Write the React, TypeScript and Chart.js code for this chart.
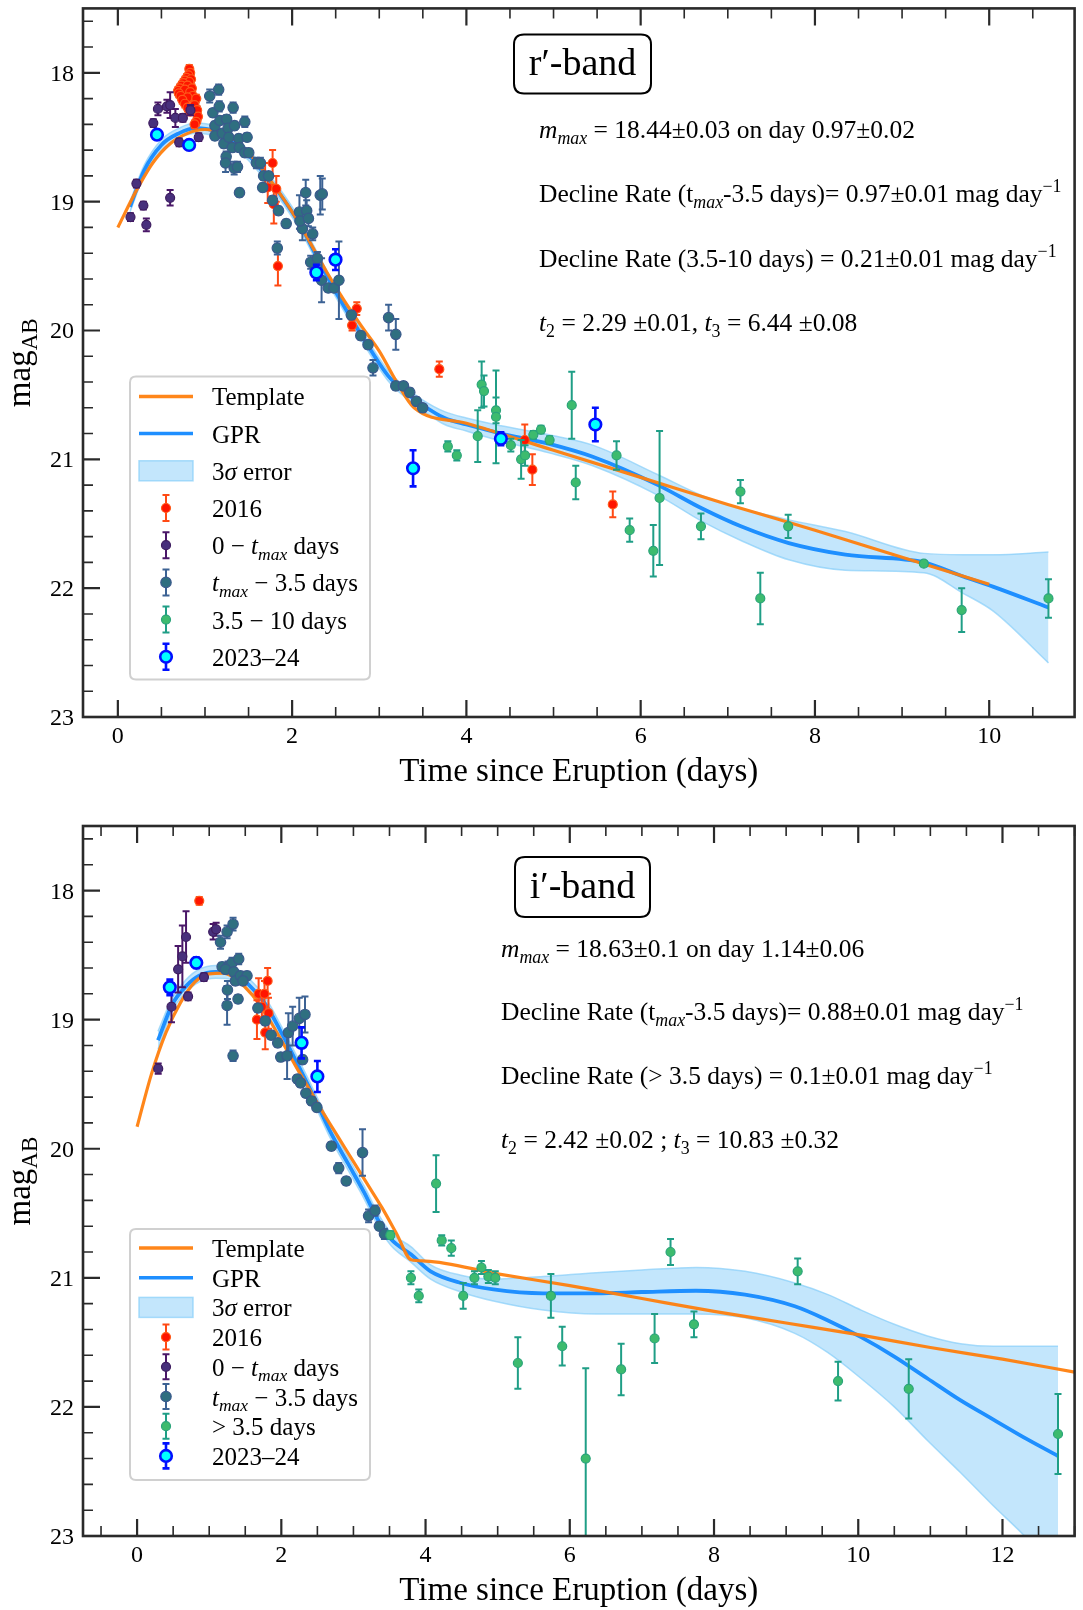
import React, { useEffect, useRef } from 'react';
import { Chart, registerables } from 'chart.js';

Chart.register(...registerables);

const SERIF = '"Liberation Serif", "Times New Roman", Times, serif';

// ================= r'-band data =================
const rTemplateX = [0.0, 0.2, 0.4, 0.6, 0.8, 1.0, 1.2, 1.4, 1.6, 1.8, 2.0, 2.2, 2.4, 2.6, 2.8, 3.0, 3.2, 3.4, 4.0, 5.0, 6.0, 7.0, 8.0, 9.0, 10.0];
const rTemplateY = [19.20, 18.93, 18.70, 18.55, 18.47, 18.44, 18.47, 18.55, 18.70, 18.88, 19.08, 19.31, 19.55, 19.77, 19.97, 20.16, 20.40, 20.60, 20.72, 20.93, 21.14, 21.35, 21.55, 21.76, 21.97];

const rGprX = [0.14, 0.3, 0.5, 0.7, 0.9, 1.1, 1.3, 1.5, 1.7, 1.9, 2.1, 2.3, 2.5, 2.7, 2.9, 3.1, 3.3, 3.5, 3.75, 4.0, 4.4, 4.95, 5.45, 6.2, 6.7, 7.15, 7.7, 8.35, 9.25, 9.7, 10.05, 10.68];
const rGprY = [19.04, 18.76, 18.56, 18.47, 18.43, 18.45, 18.53, 18.64, 18.80, 18.98, 19.19, 19.45, 19.70, 19.93, 20.15, 20.35, 20.48, 20.58, 20.68, 20.73, 20.80, 20.88, 20.98, 21.20, 21.38, 21.52, 21.65, 21.74, 21.80, 21.91, 21.99, 22.15];
const rBandUpper = [19.00, 18.72, 18.52, 18.43, 18.39, 18.41, 18.49, 18.60, 18.76, 18.94, 19.15, 19.41, 19.66, 19.89, 20.11, 20.31, 20.44, 20.54, 20.63, 20.68, 20.74, 20.81, 20.89, 21.12, 21.28, 21.38, 21.47, 21.56, 21.73, 21.74, 21.74, 21.72];
const rBandLower = [19.08, 18.80, 18.60, 18.51, 18.47, 18.49, 18.57, 18.68, 18.84, 19.02, 19.23, 19.49, 19.74, 19.97, 20.19, 20.39, 20.52, 20.62, 20.73, 20.78, 20.86, 20.95, 21.05, 21.28, 21.48, 21.63, 21.78, 21.86, 21.88, 22.04, 22.18, 22.58];

const r2016X = [0.82, 0.83, 0.81, 0.79, 0.84, 0.77, 0.82, 0.75, 0.73, 0.80, 0.85, 0.71, 0.69, 0.77, 0.83, 0.70, 0.72, 0.86, 0.80, 0.74, 0.90, 0.77, 0.88, 0.80, 0.91, 0.83, 0.92, 0.90, 0.88, 1.69, 1.72, 1.776, 1.79, 1.818, 1.837, 2.688, 2.742, 3.689, 4.67, 4.757, 5.68];
const r2016Y = [17.97, 18.00, 18.02, 18.04, 18.05, 18.06, 18.07, 18.08, 18.10, 18.10, 18.12, 18.12, 18.14, 18.13, 18.15, 18.16, 18.18, 18.18, 18.19, 18.21, 18.20, 18.24, 18.25, 18.27, 18.29, 18.30, 18.34, 18.38, 18.40, 18.80, 18.89, 18.70, 19.02, 18.90, 19.50, 19.96, 19.83, 20.30, 20.85, 21.08, 21.35];
const r2016E = [0.03, 0.03, 0.03, 0.03, 0.03, 0.03, 0.03, 0.03, 0.03, 0.03, 0.03, 0.03, 0.03, 0.03, 0.03, 0.03, 0.03, 0.03, 0.03, 0.03, 0.03, 0.03, 0.03, 0.03, 0.03, 0.03, 0.03, 0.03, 0.03, 0.10, 0.12, 0.10, 0.15, 0.10, 0.15, 0.04, 0.05, 0.06, 0.12, 0.12, 0.10];

const rRiseX = [0.145, 0.213, 0.293, 0.327, 0.407, 0.46, 0.563, 0.60, 0.60, 0.66, 0.704, 0.746, 0.833, 0.928];
const rRiseY = [19.12, 18.86, 19.03, 19.18, 18.39, 18.28, 18.26, 18.97, 18.25, 18.35, 18.54, 18.35, 18.29, 18.50];
const rRiseE = [0.03, 0.03, 0.03, 0.05, 0.03, 0.05, 0.05, 0.06, 0.10, 0.07, 0.03, 0.03, 0.04, 0.03];

const rPeakX = [1.054, 1.157, 1.09, 1.164, 1.323, 1.457, 1.114, 1.171, 1.248, 1.114, 1.20, 1.266, 1.339, 1.217, 1.274, 1.312, 1.388, 1.483, 1.396, 1.457, 1.502, 1.243, 1.236, 1.335, 1.373, 1.396, 1.59, 1.636, 1.673, 1.73, 1.662, 1.776, 1.844, 1.932, 1.83, 2.084, 2.156, 2.118, 2.09, 2.167, 2.187, 2.236, 2.323, 2.346, 2.213, 2.29, 2.338, 2.415, 2.48, 2.537, 2.68, 2.788, 2.871, 2.928, 3.107, 3.19, 3.19, 3.278, 3.35, 3.426, 3.498];
const rPeakY = [18.18, 18.13, 18.31, 18.26, 18.27, 18.38, 18.41, 18.37, 18.36, 18.49, 18.47, 18.43, 18.41, 18.55, 18.50, 18.58, 18.51, 18.50, 18.58, 18.62, 18.62, 18.65, 18.70, 18.74, 18.73, 18.93, 18.70, 18.70, 18.80, 18.80, 18.89, 18.99, 19.07, 19.17, 19.36, 19.08, 18.93, 19.21, 19.15, 19.07, 19.13, 19.25, 18.95, 18.94, 19.47, 19.44, 19.61, 19.67, 19.67, 19.61, 19.88, 20.04, 20.11, 20.29, 19.90, 20.03, 20.43, 20.43, 20.48, 20.55, 20.60];
const rPeakE = [0.05, 0.04, 0.03, 0.04, 0.04, 0.04, 0.03, 0.03, 0.03, 0.03, 0.03, 0.03, 0.03, 0.03, 0.03, 0.03, 0.03, 0.03, 0.03, 0.03, 0.03, 0.04, 0.07, 0.05, 0.04, 0.03, 0.04, 0.04, 0.03, 0.03, 0.03, 0.03, 0.03, 0.03, 0.05, 0.13, 0.10, 0.09, 0.06, 0.08, 0.06, 0.05, 0.15, 0.12, 0.05, 0.05, 0.17, 0.03, 0.03, 0.30, 0.03, 0.03, 0.03, 0.06, 0.10, 0.12, 0.03, 0.03, 0.03, 0.03, 0.03];

const rLateX = [3.787, 3.89, 4.13, 4.175, 4.202, 4.34, 4.34, 4.51, 4.628, 4.673, 4.768, 4.856, 4.955, 5.209, 5.255, 5.723, 5.874, 6.145, 6.217, 6.692, 7.145, 7.373, 7.693, 9.25, 9.684, 10.68];
const rLateY = [20.90, 20.97, 20.82, 20.42, 20.47, 20.62, 20.67, 20.89, 21.00, 20.97, 20.81, 20.77, 20.85, 20.58, 21.18, 20.97, 21.55, 21.71, 21.30, 21.52, 21.25, 22.08, 21.52, 21.81, 22.17, 22.08];
const rLateE = [0.04, 0.04, 0.20, 0.18, 0.12, 0.10, 0.36, 0.05, 0.15, 0.08, 0.03, 0.03, 0.03, 0.26, 0.13, 0.11, 0.09, 0.20, 0.52, 0.10, 0.09, 0.20, 0.09, 0.02, 0.17, 0.15];

const rNewX = [0.449, 0.818, 2.278, 2.498, 3.388, 4.396, 5.48];
const rNewY = [18.48, 18.56, 19.55, 19.45, 21.07, 20.84, 20.73];
const rNewE = [0.02, 0.03, 0.06, 0.08, 0.14, 0.05, 0.13];

// ================= i'-band data =================
const iTemplateX = [0.0, 0.2, 0.4, 0.6, 0.8, 1.0, 1.2, 1.4, 1.6, 1.8, 2.0, 2.2, 2.4, 2.6, 2.8, 3.0, 3.2, 3.4, 3.6, 3.8, 4.0, 5.0, 6.0, 7.0, 8.0, 9.0, 10.0, 11.0, 12.0, 13.0];
const iTemplateY = [19.83, 19.42, 19.10, 18.87, 18.71, 18.645, 18.64, 18.70, 18.81, 18.97, 19.16, 19.36, 19.55, 19.74, 19.92, 20.10, 20.28, 20.46, 20.66, 20.86, 20.87, 20.97, 21.06, 21.16, 21.26, 21.35, 21.44, 21.54, 21.63, 21.73];

const iGprX = [0.29, 0.49, 0.68, 0.86, 1.09, 1.32, 1.55, 1.78, 2.0, 2.24, 2.47, 2.69, 2.92, 3.15, 3.34, 3.52, 3.8, 4.07, 4.49, 4.94, 5.63, 6.37, 7.0, 7.75, 8.43, 9.12, 9.58, 10.04, 10.5, 10.96, 11.42, 11.88, 12.34, 12.77];
const iGprY = [19.16, 18.88, 18.74, 18.66, 18.63, 18.64, 18.73, 18.88, 19.10, 19.36, 19.62, 19.88, 20.11, 20.34, 20.55, 20.70, 20.82, 20.95, 21.04, 21.09, 21.12, 21.12, 21.11, 21.10, 21.13, 21.22, 21.33, 21.46, 21.61, 21.78, 21.95, 22.10, 22.25, 22.38];
const iBandUpper = [19.09, 18.83, 18.69, 18.61, 18.58, 18.59, 18.68, 18.83, 19.05, 19.31, 19.57, 19.83, 20.06, 20.29, 20.50, 20.65, 20.76, 20.90, 20.98, 21.01, 20.99, 20.96, 20.94, 20.92, 20.95, 21.04, 21.13, 21.25, 21.36, 21.45, 21.51, 21.53, 21.53, 21.53];
const iBandLower = [19.23, 18.93, 18.79, 18.71, 18.68, 18.69, 18.78, 18.93, 19.15, 19.41, 19.67, 19.93, 20.16, 20.39, 20.60, 20.75, 20.88, 21.01, 21.11, 21.18, 21.25, 21.28, 21.28, 21.28, 21.31, 21.43, 21.58, 21.78, 22.00, 22.26, 22.51, 22.77, 23.02, 23.30];

const i2016X = [0.862, 1.662, 1.685, 1.73, 1.767, 1.777, 1.81, 1.822];
const i2016Y = [18.08, 19.00, 18.80, 18.90, 18.80, 19.10, 18.70, 18.95];
const i2016E = [0.03, 0.15, 0.12, 0.12, 0.10, 0.13, 0.10, 0.12];

const iRiseX = [0.293, 0.477, 0.569, 0.628, 0.679, 0.707, 0.927, 1.055, 1.096];
const iRiseY = [19.38, 18.90, 18.61, 18.51, 18.36, 18.82, 18.67, 18.32, 18.30];
const iRiseE = [0.04, 0.12, 0.18, 0.24, 0.20, 0.03, 0.03, 0.06, 0.05];

const iPeakX = [1.157, 1.248, 1.331, 1.179, 1.262, 1.317, 1.409, 1.226, 1.34, 1.363, 1.432, 1.524, 1.468, 1.253, 1.248, 1.40, 1.331, 1.675, 1.777, 1.859, 1.95, 1.992, 2.08, 2.098, 2.157, 2.249, 2.328, 2.295, 2.222, 2.267, 2.34, 2.419, 2.493, 2.694, 2.796, 2.90, 3.126, 3.21, 3.30, 3.36, 3.43];
const iPeakY = [18.40, 18.32, 18.26, 18.59, 18.59, 18.56, 18.53, 18.61, 18.63, 18.70, 18.66, 18.66, 18.70, 18.77, 18.89, 18.84, 19.28, 18.91, 19.01, 19.12, 19.18, 19.29, 19.28, 19.10, 19.05, 18.99, 18.96, 19.31, 19.46, 19.49, 19.57, 19.63, 19.68, 19.98, 20.15, 20.25, 20.03, 20.52, 20.48, 20.60, 20.66];
const iPeakE = [0.05, 0.05, 0.05, 0.03, 0.04, 0.04, 0.04, 0.03, 0.03, 0.03, 0.03, 0.03, 0.03, 0.07, 0.15, 0.03, 0.04, 0.03, 0.03, 0.03, 0.03, 0.03, 0.18, 0.15, 0.15, 0.16, 0.14, 0.03, 0.03, 0.03, 0.03, 0.03, 0.03, 0.03, 0.04, 0.03, 0.18, 0.05, 0.04, 0.03, 0.04];

const iLateX = [3.512, 3.797, 3.906, 4.146, 4.224, 4.357, 4.522, 4.678, 4.775, 4.871, 4.967, 5.28, 5.738, 5.895, 6.221, 6.712, 7.176, 7.397, 7.722, 9.16, 9.72, 10.70, 12.77];
const iLateY = [20.67, 21.00, 21.14, 20.27, 20.71, 20.77, 21.14, 21.00, 20.92, 20.99, 21.00, 21.66, 21.14, 21.53, 22.40, 21.71, 21.47, 20.80, 21.36, 20.95, 21.80, 21.86, 22.21];
const iLateE = [0.03, 0.05, 0.05, 0.22, 0.04, 0.06, 0.10, 0.05, 0.05, 0.05, 0.05, 0.20, 0.17, 0.15, 0.70, 0.20, 0.19, 0.10, 0.10, 0.10, 0.15, 0.23, 0.31];

const iNewX = [0.454, 0.821, 2.281, 2.50];
const iNewY = [18.75, 18.56, 19.18, 19.44];
const iNewE = [0.06, 0.04, 0.12, 0.12];

// ================= ticks & labels =================
const rXTicks = [0, 2, 4, 6, 8, 10];
const iXTicks = [0, 2, 4, 6, 8, 10, 12];
const yTicks = [18, 19, 20, 21, 22, 23];

const rBandTitle = 'r′-band';
const iBandTitle = 'i′-band';

type Seg = { t: string; it?: boolean; sub?: boolean; sup?: boolean };

const rAnnotations: Seg[][] = [
  [{ t: 'm', it: true }, { t: 'max', it: true, sub: true }, { t: ' = 18.44±0.03 on day 0.97±0.02' }],
  [{ t: 'Decline Rate (t' }, { t: 'max', it: true, sub: true }, { t: '-3.5 days)= 0.97±0.01 mag day' }, { t: '−1', sup: true }],
  [{ t: 'Decline Rate (3.5-10 days) = 0.21±0.01 mag day' }, { t: '−1', sup: true }],
  [{ t: 't', it: true }, { t: '2', sub: true }, { t: ' = 2.29 ±0.01, ' }, { t: 't', it: true }, { t: '3', sub: true }, { t: ' = 6.44 ±0.08' }],
];
const iAnnotations: Seg[][] = [
  [{ t: 'm', it: true }, { t: 'max', it: true, sub: true }, { t: ' = 18.63±0.1 on day 1.14±0.06' }],
  [{ t: 'Decline Rate (t' }, { t: 'max', it: true, sub: true }, { t: '-3.5 days)= 0.88±0.01 mag day' }, { t: '−1', sup: true }],
  [{ t: 'Decline Rate (> 3.5 days) = 0.1±0.01 mag day' }, { t: '−1', sup: true }],
  [{ t: 't', it: true }, { t: '2', sub: true }, { t: ' = 2.42 ±0.02 ; ' }, { t: 't', it: true }, { t: '3', sub: true }, { t: ' = 10.83 ±0.32' }],
];

const lblTemplate: Seg[] = [{ t: 'Template' }];
const lblGpr: Seg[] = [{ t: 'GPR' }];
const lblErr: Seg[] = [{ t: '3' }, { t: 'σ', it: true }, { t: ' error' }];
const lbl2016: Seg[] = [{ t: '2016' }];
const lblRise: Seg[] = [{ t: '0 − ' }, { t: 't', it: true }, { t: 'max', it: true, sub: true }, { t: ' days' }];
const lblPeak: Seg[] = [{ t: 't', it: true }, { t: 'max', it: true, sub: true }, { t: ' − 3.5 days' }];
const lblLateR: Seg[] = [{ t: '3.5 − 10 days' }];
const lblLateI: Seg[] = [{ t: '> 3.5 days' }];
const lblNew: Seg[] = [{ t: '2023–24' }];

// ================= styles =================
const C_TEMPLATE = 'rgba(255,127,14,0.95)';
const C_GPR = '#1e8fff';
const C_BAND = 'rgba(135,206,250,0.5)';
const C_BAND_EDGE = 'rgba(135,206,250,0.7)';

const S2016 = { fill: '#ff1500', edge: '#ff5a1a', err: '#ff4a14', r: 4.5, bw: 1.2 };
const SRise = { fill: '#48307c', edge: '#3e1d60', err: '#4a1768', r: 4.5, bw: 1.2 };
const SPeak = { fill: '#2f6f80', edge: '#3a5a8c', err: '#3c6294', r: 5.2, bw: 1.2 };
const SLate = { fill: '#3dbb6e', edge: '#2aa47a', err: '#1f9e86', r: 4.5, bw: 1.2 };
const SNew = { fill: '#00ffff', edge: '#0010ff', err: '#0010ff', r: 5.8, bw: 2.6 };

function pts(xs: number[], ys: number[]) {
  return xs.map((x, i) => ({ x, y: ys[i] }));
}

function drawFont(size: number, s: Seg) {
  const sz = s.sub || s.sup ? size * 0.7 : size;
  return `${s.it ? 'italic ' : ''}${sz}px ${SERIF}`;
}
function richWidth(ctx: CanvasRenderingContext2D, segs: Seg[], size: number) {
  let w = 0;
  for (const s of segs) {
    ctx.font = drawFont(size, s);
    w += ctx.measureText(s.t).width;
  }
  return w;
}
function drawRich(ctx: CanvasRenderingContext2D, segs: Seg[], x: number, y: number, size: number, sx = 1, align = 'left') {
  const w = richWidth(ctx, segs, size);
  ctx.save();
  ctx.translate(x, y);
  ctx.scale(sx, 1);
  let cx = align === 'center' ? -w / 2 : align === 'right' ? -w : 0;
  ctx.textAlign = 'left';
  ctx.textBaseline = 'alphabetic';
  ctx.fillStyle = '#000';
  for (const s of segs) {
    ctx.font = drawFont(size, s);
    const dy = s.sub ? size * 0.22 : s.sup ? -size * 0.4 : 0;
    ctx.fillText(s.t, cx, dy);
    cx += ctx.measureText(s.t).width;
  }
  ctx.restore();
}
function rrect(ctx: CanvasRenderingContext2D, x: number, y: number, w: number, h: number, r: number) {
  ctx.beginPath();
  ctx.moveTo(x + r, y);
  ctx.lineTo(x + w - r, y);
  ctx.quadraticCurveTo(x + w, y, x + w, y + r);
  ctx.lineTo(x + w, y + h - r);
  ctx.quadraticCurveTo(x + w, y + h, x + w - r, y + h);
  ctx.lineTo(x + r, y + h);
  ctx.quadraticCurveTo(x, y + h, x, y + h - r);
  ctx.lineTo(x, y + r);
  ctx.quadraticCurveTo(x, y, x + r, y);
  ctx.closePath();
}

function drawErrHandle(ctx: CanvasRenderingContext2D, st: any, cx: number, cy: number, half: number) {
  ctx.strokeStyle = st.err;
  ctx.lineWidth = st === SNew ? 2.6 : 2;
  ctx.beginPath();
  ctx.moveTo(cx, cy - half); ctx.lineTo(cx, cy + half);
  ctx.moveTo(cx - 3.5, cy - half); ctx.lineTo(cx + 3.5, cy - half);
  ctx.moveTo(cx - 3.5, cy + half); ctx.lineTo(cx + 3.5, cy + half);
  ctx.stroke();
  ctx.beginPath();
  ctx.arc(cx, cy, st.r, 0, Math.PI * 2);
  ctx.fillStyle = st.fill;
  ctx.fill();
  ctx.lineWidth = st.bw;
  ctx.strokeStyle = st.edge;
  ctx.stroke();
}

type Panel = {
  w: number; h: number;
  pad: { left: number; right: number; top: number; bottom: number };
  xMin: number; xMax: number; xTicks: number[];
  tplX: number[]; tplY: number[];
  gprX: number[]; gprY: number[]; bandU: number[]; bandL: number[];
  groups: { x: number[]; y: number[]; e: number[]; st: any; order: number }[];
  title: string; titleBox: { x: number; y: number; w: number; h: number; base: number };
  annot: Seg[][]; annotX: number; annotBase: number[];
  legend: { x: number; y: number; w: number; h: number; row0: number; step: number; half: number };
  legendItems: { kind: string; st?: any; label: Seg[] }[];
};

const panelR: Panel = {
  w: 1083, h: 790,
  pad: { left: 83, right: 2, top: 7, bottom: 73 },
  xMin: -0.4, xMax: 10.98, xTicks: rXTicks,
  tplX: rTemplateX, tplY: rTemplateY,
  gprX: rGprX, gprY: rGprY, bandU: rBandUpper, bandL: rBandLower,
  groups: [
    { x: r2016X, y: r2016Y, e: r2016E, st: S2016, order: 50 },
    { x: rRiseX, y: rRiseY, e: rRiseE, st: SRise, order: 40 },
    { x: rPeakX, y: rPeakY, e: rPeakE, st: SPeak, order: 30 },
    { x: rLateX, y: rLateY, e: rLateE, st: SLate, order: 20 },
    { x: rNewX, y: rNewY, e: rNewE, st: SNew, order: 10 },
  ],
  title: rBandTitle, titleBox: { x: 431, y: 26, w: 137, h: 59, base: 67 },
  annot: rAnnotations, annotX: 456, annotBase: [130, 194, 259, 323],
  legend: { x: 47, y: 368, w: 240, h: 303, row0: 388, step: 37.2, half: 13 },
  legendItems: [
    { kind: 'line', st: { c: C_TEMPLATE, w: 3.5 }, label: lblTemplate },
    { kind: 'line', st: { c: C_GPR, w: 3.5 }, label: lblGpr },
    { kind: 'fill', label: lblErr },
    { kind: 'err', st: S2016, label: lbl2016 },
    { kind: 'err', st: SRise, label: lblRise },
    { kind: 'err', st: SPeak, label: lblPeak },
    { kind: 'err', st: SLate, label: lblLateR },
    { kind: 'err', st: SNew, label: lblNew },
  ],
};

const panelI: Panel = {
  w: 1083, h: 820,
  pad: { left: 83, right: 2, top: 36, bottom: 74 },
  xMin: -0.75, xMax: 13.0, xTicks: iXTicks,
  tplX: iTemplateX, tplY: iTemplateY,
  gprX: iGprX, gprY: iGprY, bandU: iBandUpper, bandL: iBandLower,
  groups: [
    { x: i2016X, y: i2016Y, e: i2016E, st: S2016, order: 50 },
    { x: iRiseX, y: iRiseY, e: iRiseE, st: SRise, order: 40 },
    { x: iPeakX, y: iPeakY, e: iPeakE, st: SPeak, order: 30 },
    { x: iLateX, y: iLateY, e: iLateE, st: SLate, order: 20 },
    { x: iNewX, y: iNewY, e: iNewE, st: SNew, order: 10 },
  ],
  title: iBandTitle, titleBox: { x: 432, y: 31, w: 135, h: 60, base: 72 },
  annot: iAnnotations, annotX: 418, annotBase: [131, 194, 258, 322],
  legend: { x: 47, y: 403, w: 240, h: 251, row0: 422, step: 29.7, half: 12.5 },
  legendItems: [
    { kind: 'line', st: { c: C_TEMPLATE, w: 3.5 }, label: lblTemplate },
    { kind: 'line', st: { c: C_GPR, w: 3.5 }, label: lblGpr },
    { kind: 'fill', label: lblErr },
    { kind: 'err', st: S2016, label: lbl2016 },
    { kind: 'err', st: SRise, label: lblRise },
    { kind: 'err', st: SPeak, label: lblPeak },
    { kind: 'err', st: SLate, label: lblLateI },
    { kind: 'err', st: SNew, label: lblNew },
  ],
};

function makeDecor(p: Panel) {
  return {
    id: 'decor',
    beforeDatasetDraw(chart: any, args: any) {
      const ds = chart.data.datasets[args.index];
      if (!ds.errs) return;
      const ctx: CanvasRenderingContext2D = chart.ctx;
      const ys = chart.scales.y;
      const a = chart.chartArea;
      ctx.save();
      ctx.beginPath();
      ctx.rect(a.left, a.top, a.right - a.left, a.bottom - a.top);
      ctx.clip();
      ctx.strokeStyle = ds.errColor;
      ctx.lineWidth = ds.errWidth;
      args.meta.data.forEach((pt: any, i: number) => {
        const v = ds.data[i];
        const e = ds.errs[i];
        const y1 = ys.getPixelForValue(v.y - e);
        const y2 = ys.getPixelForValue(v.y + e);
        ctx.beginPath();
        ctx.moveTo(pt.x, y1); ctx.lineTo(pt.x, y2);
        ctx.moveTo(pt.x - 3.5, y1); ctx.lineTo(pt.x + 3.5, y1);
        ctx.moveTo(pt.x - 3.5, y2); ctx.lineTo(pt.x + 3.5, y2);
        ctx.stroke();
      });
      ctx.restore();
    },
    afterDatasetsDraw(chart: any) {
      const ctx: CanvasRenderingContext2D = chart.ctx;
      const a = chart.chartArea;
      ctx.save();
      // title box
      const tb = p.titleBox;
      rrect(ctx, a.left + tb.x, a.top + tb.y, tb.w, tb.h, 10);
      ctx.fillStyle = '#fff';
      ctx.fill();
      ctx.lineWidth = 2;
      ctx.strokeStyle = '#000';
      ctx.stroke();
      drawRich(ctx, [{ t: p.title }], a.left + tb.x + tb.w / 2, a.top + tb.base, 38, 1, 'center');
      // annotations
      p.annot.forEach((segs, i) => drawRich(ctx, segs, a.left + p.annotX, a.top + p.annotBase[i], 25.5, 1));
      // legend
      const L = p.legend;
      const x0 = a.left + L.x;
      const y0 = a.top + L.y;
      rrect(ctx, x0, y0, L.w, L.h, 6);
      ctx.fillStyle = 'rgba(255,255,255,0.85)';
      ctx.fill();
      ctx.strokeStyle = '#d0d0d0';
      ctx.lineWidth = 2;
      ctx.stroke();
      p.legendItems.forEach((it, i) => {
        const cy = a.top + L.row0 + i * L.step;
        if (it.kind === 'line') {
          ctx.strokeStyle = it.st.c;
          ctx.lineWidth = it.st.w;
          ctx.beginPath();
          ctx.moveTo(x0 + 9, cy); ctx.lineTo(x0 + 63, cy);
          ctx.stroke();
        } else if (it.kind === 'fill') {
          ctx.fillStyle = C_BAND;
          ctx.fillRect(x0 + 9, cy - 10, 54, 20);
          ctx.strokeStyle = C_BAND_EDGE;
          ctx.lineWidth = 1.5;
          ctx.strokeRect(x0 + 9, cy - 10, 54, 20);
        } else {
          drawErrHandle(ctx, it.st, x0 + 36, cy, L.half);
        }
        drawRich(ctx, it.label, x0 + 82, cy + 9, 25, 1);
      });
      ctx.restore();
    },
    afterDraw(chart: any) {
      const ctx: CanvasRenderingContext2D = chart.ctx;
      const a = chart.chartArea;
      const xs = chart.scales.x;
      const ys = chart.scales.y;
      ctx.save();
      ctx.strokeStyle = '#2a2a2a';
      // ticks
      const xMinor: number[] = [];
      for (let v = Math.ceil(p.xMin * 2) / 2; v <= p.xMax + 1e-9; v += 0.5) {
        if (Math.abs(v / 2 - Math.round(v / 2)) > 1e-6) xMinor.push(v);
      }
      ctx.lineWidth = 1.6;
      ctx.beginPath();
      xMinor.forEach((v) => {
        const px = xs.getPixelForValue(v);
        ctx.moveTo(px, a.bottom); ctx.lineTo(px, a.bottom - 10);
        ctx.moveTo(px, a.top); ctx.lineTo(px, a.top + 10);
      });
      for (let k = 88; k <= 114; k++) {
        const v = k / 5;
        if (k % 5 === 0) continue;
        const py = ys.getPixelForValue(v);
        ctx.moveTo(a.left, py); ctx.lineTo(a.left + 10, py);
      }
      ctx.stroke();
      ctx.lineWidth = 2.2;
      ctx.beginPath();
      p.xTicks.forEach((v) => {
        const px = xs.getPixelForValue(v);
        ctx.moveTo(px, a.bottom); ctx.lineTo(px, a.bottom - 17);
        ctx.moveTo(px, a.top); ctx.lineTo(px, a.top + 17);
      });
      yTicks.forEach((v) => {
        const py = ys.getPixelForValue(v);
        ctx.moveTo(a.left, py); ctx.lineTo(a.left + 17, py);
      });
      ctx.stroke();
      // frame
      ctx.lineWidth = 2.6;
      ctx.strokeRect(a.left, a.top, a.right - a.left, a.bottom - a.top);
      // tick labels
      p.xTicks.forEach((v) => {
        drawRich(ctx, [{ t: String(v) }], xs.getPixelForValue(v), a.bottom + 26, 24, 1, 'center');
      });
      yTicks.forEach((v) => {
        drawRich(ctx, [{ t: String(v) }], a.left - 9, ys.getPixelForValue(v) + 8, 24, 1, 'right');
      });
      // axis labels
      drawRich(ctx, [{ t: 'Time since Eruption (days)' }], (a.left + a.right) / 2, a.bottom + 64, 33, 1, 'center');
      ctx.save();
      ctx.translate(a.left - 53, (a.top + a.bottom) / 2);
      ctx.rotate(-Math.PI / 2);
      drawRich(ctx, [{ t: 'mag' }, { t: 'AB', sub: true }], 0, 0, 33, 1, 'center');
      ctx.restore();
      ctx.restore();
    },
  };
}

function buildConfig(p: Panel): any {
  const lineCommon = { pointRadius: 0, pointHoverRadius: 0, cubicInterpolationMode: 'monotone', showLine: true };
  const datasets: any[] = [
    { ...lineCommon, label: 'band-upper', data: pts(p.gprX, p.bandU), borderColor: C_BAND_EDGE, borderWidth: 1.5, fill: false, order: 100 },
    { ...lineCommon, label: '3σ error', data: pts(p.gprX, p.bandL), borderColor: C_BAND_EDGE, borderWidth: 1.5, backgroundColor: C_BAND, fill: '-1', order: 99 },
    { ...lineCommon, label: 'GPR', data: pts(p.gprX, p.gprY), borderColor: C_GPR, borderWidth: 3.8, fill: false, order: 90 },
    { ...lineCommon, label: 'Template', data: pts(p.tplX, p.tplY), borderColor: C_TEMPLATE, borderWidth: 3.2, fill: false, order: 80 },
  ];
  p.groups.forEach((g) => {
    datasets.push({
      label: 'pts',
      data: pts(g.x, g.y),
      errs: g.e,
      errColor: g.st.err,
      errWidth: g.st === SNew ? 2.6 : 2,
      showLine: false,
      pointRadius: g.st.r,
      pointHoverRadius: g.st.r,
      pointBackgroundColor: g.st.fill,
      pointBorderColor: g.st.edge,
      pointBorderWidth: g.st.bw,
      order: g.order,
    });
  });
  return {
    type: 'line',
    data: { datasets },
    options: {
      responsive: false,
      animation: false,
      devicePixelRatio: 1,
      events: [],
      layout: { padding: p.pad },
      scales: {
        x: { type: 'linear', min: p.xMin, max: p.xMax, display: false },
        y: { type: 'linear', min: 17.5, max: 23, reverse: true, display: false },
      },
      plugins: { legend: { display: false }, tooltip: { enabled: false }, title: { display: false } },
    },
    plugins: [makeDecor(p)],
  };
}

function LightCurve({ panel }: { panel: Panel }) {
  const ref = useRef<HTMLCanvasElement>(null);
  useEffect(() => {
    const chart = new Chart(ref.current as HTMLCanvasElement, buildConfig(panel));
    return () => chart.destroy();
  }, [panel]);
  return <canvas ref={ref} width={panel.w} height={panel.h} style={{ display: 'block', width: panel.w, height: panel.h }} />;
}

export default function App() {
  useEffect(() => {
    document.body.style.margin = '0';
    document.body.style.background = '#fff';
  }, []);
  return (
    <div style={{ width: 1083, height: 1610, background: '#fff' }}>
      <LightCurve panel={panelR} />
      <LightCurve panel={panelI} />
    </div>
  );
}
